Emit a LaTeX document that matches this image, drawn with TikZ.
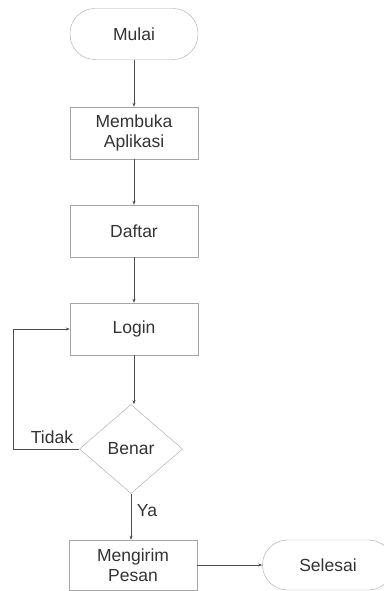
\documentclass[tikz,border=0pt]{standalone}
\usepackage{fontspec}
\setmainfont{Liberation Sans}
\usetikzlibrary{shapes.geometric,arrows.meta}

\begin{document}
\begin{tikzpicture}[x=1pt, y=-1pt,
        proses/.style={draw=gray!70, rectangle, minimum width=128pt, minimum height=52pt, align=center, text=black!80},
        terminal/.style={draw=gray!70, rectangle, rounded corners=25pt, minimum width=128pt, minimum height=51pt, text=black!80},
        keputusan/.style={draw=gray!70, diamond, minimum width=103pt, minimum height=89pt, inner sep=0pt, text=black!80},
        panah/.style={draw=black!70, line width=0.7pt, -{Stealth[length=4pt, width=3pt]}},
        every node/.style={font=\fontsize{17.5}{19.5}\selectfont}]
                \useasboundingbox (0,0) rectangle (383,591);
                \node[terminal] (mulai) at (134,34) {Mulai};
                \node[proses] (buka) at (134,133) {Membuka\\Aplikasi};
                \node[proses] (daftar) at (134,231) {Daftar};
                \node[proses] (login) at (134,329) {Login};
                \node[keputusan] (benar) at (131,449) {Benar};
                \node[proses, minimum height=50pt] (kirim) at (133,565) {Mengirim\\Pesan};
                \node[terminal, minimum width=131pt, minimum height=50pt] (selesai) at (328,565) {Selesai};
                \coordinate (balik) at (13,449);
                \node[text=black!80] (tidak) at (52,437) {Tidak};
                \node[text=black!80] (ya) at (147,511) {Ya};
                \draw[panah] (mulai) -- (buka);
                \draw[panah] (buka) -- (daftar);
                \draw[panah] (daftar) -- (login);
                \draw[panah] (login) -- (login |- benar.north);
                \draw[panah] (benar.west) -- (balik) |- (login.west);
                \draw[panah] (benar.south) -- (benar.south |- kirim.north);
                \draw[panah] (kirim) -- (selesai);
            \end{tikzpicture}
\end{document}
